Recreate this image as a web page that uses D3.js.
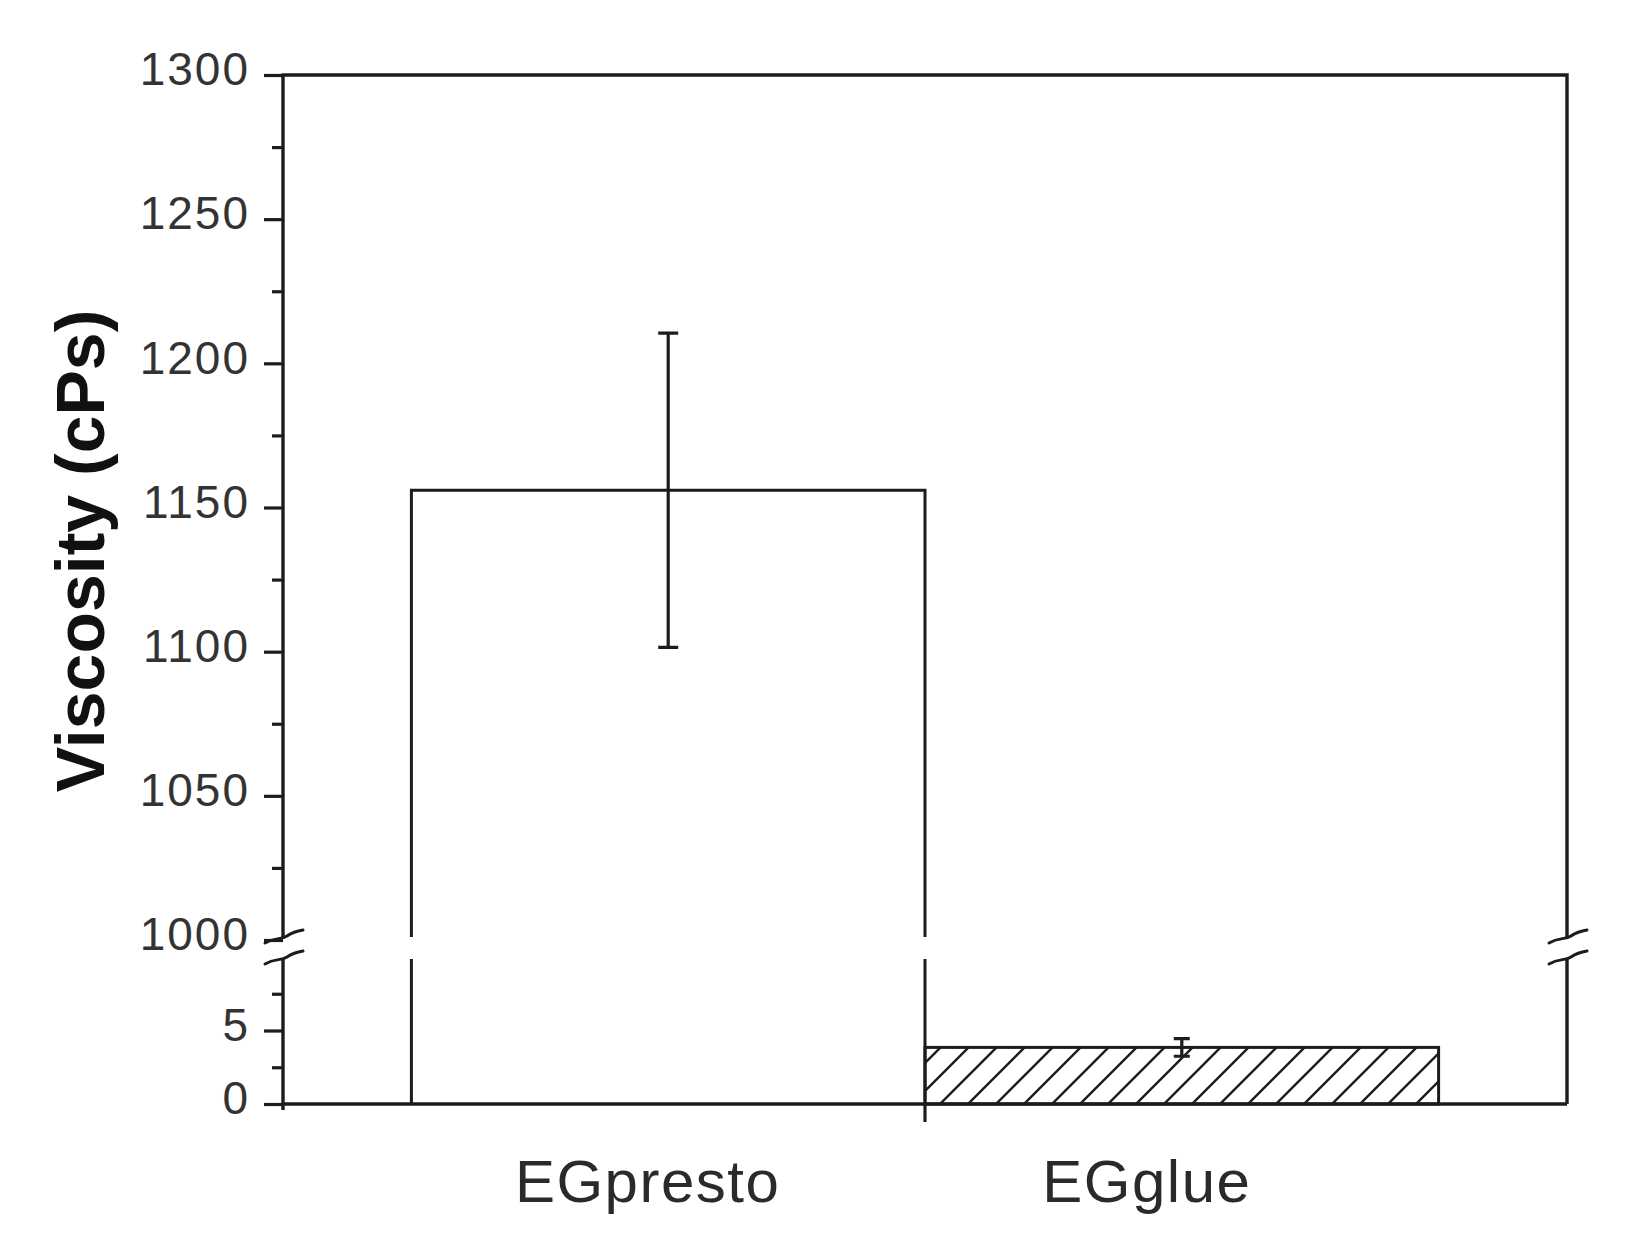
<!DOCTYPE html>
<html>
<head>
<meta charset="utf-8">
<script src="https://cdn.jsdelivr.net/npm/d3@7"></script>
<style>
  html, body { margin: 0; padding: 0; background: #fff; }
  svg { display: block; }
  text { font-family: "Liberation Sans", Arial, sans-serif; }
</style>
</head>
<body>
<svg id="chart" width="1629" height="1242"></svg>
<script>
// ---- data ----
const categories = ["EGpresto", "EGglue"];
const means = [1156, 3.85];
const errors = [54.5, 0.6];
const upperTicks = [1000, 1050, 1100, 1150, 1200, 1250, 1300];
const upperMinorTicks = [1025, 1075, 1125, 1175, 1225, 1275];
const lowerTicks = [0, 5];
const lowerMinorTicks = [2.5, 7.5];
const yTitle = "Viscosity (cPs)";

// ---- layout ----
const W = 1629, H = 1242;
const plotLeft = 283, plotRight = 1567, plotTop = 75, plotBottom = 1104;
const breakTop = 940, breakBottom = 957;
const ink = "#1c1c1c";

const svg = d3.select("#chart");

const x = d3.scaleBand().domain(categories).range([plotLeft, plotRight]).paddingInner(0).paddingOuter(0.25);
const yUp = d3.scaleLinear().domain([1000, 1300]).range([breakTop, plotTop]);
const yLo = d3.scaleLinear().domain([0, 10]).range([plotBottom, breakBottom]);
const breakVal = yLo.domain()[1];
// category label anchor scale (labels sit slightly left of bar centres, closer together)
const xLab = d3.scalePoint().domain(categories)
  .range([x(categories[0]) + x.bandwidth() * 0.46, x(categories[1]) + x.bandwidth() * 0.432]);

// hatch pattern
const defs = svg.append("defs");
const pat = defs.append("pattern").attr("id", "hatch").attr("patternUnits", "userSpaceOnUse")
  .attr("width", 28).attr("height", 28);
pat.append("path").attr("d", "M-7,7 l14,-14 M0,28 l28,-28 M21,35 l14,-14")
  .attr("stroke", ink).attr("stroke-width", 2.4);

const gap = 3;
const barStroke = 3;

// ---- bars ----
categories.forEach((c, i) => {
  const x0 = x(c), x1 = x(c) + x.bandwidth();
  const v = means[i];
  const g = svg.append("g");
  if (v > breakVal) {
    const yt = yUp(v);
    g.append("path").attr("d", `M${x0},${plotBottom} V${breakBottom + 2} M${x1},${plotBottom} V${breakBottom + 2}`)
      .attr("stroke", ink).attr("stroke-width", barStroke).attr("fill", "none");
    g.append("path").attr("d", `M${x0},${breakTop - gap} V${yt} H${x1} V${breakTop - gap}`)
      .attr("stroke", ink).attr("stroke-width", barStroke).attr("fill", "none");
  } else {
    const yt = yLo(v);
    g.append("rect").attr("x", x0).attr("y", yt).attr("width", x1 - x0).attr("height", plotBottom - yt)
      .attr("fill", "url(#hatch)").attr("stroke", ink).attr("stroke-width", barStroke);
  }
});

// ---- error bars ----
categories.forEach((c, i) => {
  const cx = x(c) + x.bandwidth() / 2;
  const v = means[i], e = errors[i];
  const sc = v > breakVal ? yUp : yLo;
  const capW = v > breakVal ? 10 : 8;
  const yHi = sc(v + e), yLow = sc(v - e);
  svg.append("path")
    .attr("d", `M${cx},${yHi} V${yLow} M${cx - capW},${yHi} H${cx + capW} M${cx - capW},${yLow} H${cx + capW}`)
    .attr("stroke", ink).attr("stroke-width", 3.2).attr("fill", "none");
});

// ---- axes ----
function styleAxis(g) {
  g.selectAll("path.domain").attr("stroke", ink).attr("stroke-width", 3.4);
  g.selectAll(".tick line").attr("stroke", ink).attr("stroke-width", 3.2);
  g.selectAll(".tick text").attr("font-size", 46).attr("fill", "#333").attr("letter-spacing", 2)
    .attr("font-family", '"Liberation Sans", Arial, sans-serif').attr("dy", "0.32em").attr("y", -5);
}

svg.append("g").attr("transform", `translate(${plotLeft},0)`)
  .call(d3.axisLeft(yUp).tickValues(upperTicks).tickSize(19).tickPadding(14).tickSizeOuter(0).tickFormat(d3.format("d")))
  .call(styleAxis)
  .call(g => g.select("path.domain").attr("d", `M0,${breakTop - gap}V${plotTop}`));
svg.append("g").attr("transform", `translate(${plotLeft},0)`)
  .call(d3.axisLeft(yUp).tickValues(upperMinorTicks).tickSize(11).tickFormat(""))
  .call(styleAxis).call(g => g.select("path.domain").remove());

svg.append("g").attr("transform", `translate(${plotLeft},0)`)
  .call(d3.axisLeft(yLo).tickValues(lowerTicks).tickSize(19).tickPadding(14).tickSizeOuter(0).tickFormat(d3.format("d")))
  .call(styleAxis)
  .call(g => g.select("path.domain").attr("d", `M0,${plotBottom + 6}V${breakBottom + 2}`));
svg.append("g").attr("transform", `translate(${plotLeft},0)`)
  .call(d3.axisLeft(yLo).tickValues(lowerMinorTicks).tickSize(11).tickFormat(""))
  .call(styleAxis).call(g => g.select("path.domain").remove());

svg.append("path")
  .attr("d", `M${plotLeft - 1.5},${plotTop} H${plotRight} V${breakTop - gap} M${plotRight},${breakBottom + 2} V${plotBottom}`)
  .attr("stroke", ink).attr("stroke-width", 3.4).attr("fill", "none");

const xAxisG = svg.append("g").attr("transform", `translate(0,${plotBottom})`);
xAxisG.append("line").attr("x1", plotLeft).attr("x2", plotRight).attr("y1", 0).attr("y2", 0)
  .attr("stroke", ink).attr("stroke-width", 3.6);
xAxisG.append("line")
  .attr("x1", x(categories[1])).attr("x2", x(categories[1]))
  .attr("y1", 0).attr("y2", 18).attr("stroke", ink).attr("stroke-width", 3.2);
xAxisG.selectAll("text.cat").data(categories).join("text").attr("class", "cat")
  .attr("x", d => xLab(d))
  .attr("y", 98)
  .attr("text-anchor", "middle").attr("font-size", 60).attr("fill", "#2a2a2a").attr("letter-spacing", 1.5)
  .text(d => d);

// break marks
[plotLeft, plotRight].forEach(ax => {
  [breakTop - 3, breakBottom + 1].forEach(yy => {
    svg.append("path")
      .attr("d", `M${ax - 18},${yy + 6} C${ax - 8},${yy} ${ax - 2},${yy + 3} ${ax + 4},${yy - 1} S${ax + 14},${yy - 6} ${ax + 20},${yy - 7}`)
      .attr("stroke", ink).attr("stroke-width", 3).attr("fill", "none").attr("stroke-linecap", "round");
  });
});

svg.append("text")
  .attr("transform", `translate(104,551) rotate(-90)`)
  .attr("text-anchor", "middle")
  .attr("font-size", 68).attr("font-weight", "bold").attr("fill", "#111")
  .text(yTitle);
</script>
</body>
</html>
